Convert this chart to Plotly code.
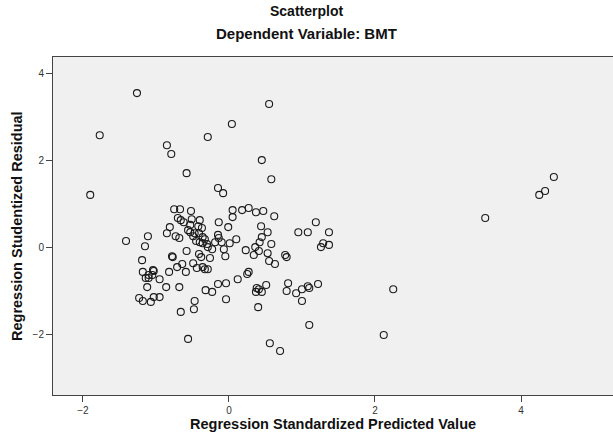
import plotly.graph_objects as go

# Regression Standardized Predicted Value
pred = [-1.26, -1.77, 0.55, 0.04, -0.29, -0.85, -0.79, 0.45, -0.58, 0.58,
        -1.90, -0.15, -0.08, 4.45, 4.33, 4.25, 3.51, -0.75, -0.67, -0.52,
        -0.70, -0.66, -0.62, -0.51, -0.40, -0.53, -0.42, -0.37, -0.81, -0.14,
        -0.01, 0.05, 0.18, 0.27, 0.37, 0.47, 0.05, 0.62, 0.44, 1.19,
        0.95, 1.08, 1.37, 1.29, 1.26, 1.37, 0.58, -0.85, -0.73, -0.68,
        -0.56, -0.53, -0.47, -0.49, -0.41, -0.36, -0.45, -0.33, -0.40, -0.36,
        -0.30, -0.29, -0.23, -0.15, -0.14, -0.10, -0.19, -0.07, 0.01, 0.10,
        0.53, 0.45, 0.42, 0.36, 0.41, 0.23, 0.34, 0.53, 0.55, 0.63,
        0.77, 0.79, -0.58, -0.78, -0.77, -0.41, -0.38, -0.26, -0.05, -0.49,
        -0.59, -0.44, -0.36, -0.33, -0.29, -0.64, -0.71, -0.82, -1.04, -1.05,
        -0.95, -0.86, -0.68, -0.32, -0.23, -0.15, -0.04, 0.12, 0.25, 0.27,
        0.38, 0.41, 0.37, 0.45, 0.51, 0.81, 0.79, 0.92, 1.00, 1.08,
        1.10, 1.22, 1.00, 1.10, 2.25, 2.12, 0.56, 0.70, -1.41, -1.11,
        -1.15, -1.19, -1.18, -1.03, -1.10, -1.14, -1.10, -1.12, -1.23, -1.18,
        -1.07, -1.03, -0.95, -0.47, -0.48, -0.66, -0.56, -0.04, 0.40]

# Regression Studentized Residual
resid = [3.54, 2.57, 3.29, 2.83, 2.53, 2.34, 2.14, 2.00, 1.70, 1.56,
         1.20, 1.36, 1.24, 1.61, 1.29, 1.20, 0.67, 0.87, 0.87, 0.83,
         0.67, 0.62, 0.57, 0.64, 0.62, 0.51, 0.48, 0.44, 0.46, 0.57,
         0.46, 0.85, 0.85, 0.90, 0.80, 0.83, 0.69, 0.71, 0.48, 0.57,
         0.34, 0.34, 0.34, 0.09, 0.00, 0.05, 0.07, 0.32, 0.25, 0.21,
         0.39, 0.34, 0.32, 0.25, 0.32, 0.23, 0.14, 0.18, 0.11, 0.09,
         0.07, 0.00, -0.05, 0.28, 0.21, 0.11, 0.11, -0.05, 0.09, 0.18,
         0.34, 0.23, 0.11, 0.00, -0.09, -0.07, -0.18, -0.14, -0.32, -0.39,
         -0.18, -0.23, -0.09, -0.21, -0.23, -0.16, -0.23, -0.25, -0.21, -0.37,
         -0.57, -0.48, -0.46, -0.51, -0.51, -0.39, -0.46, -0.57, -0.53, -0.64,
         -0.74, -0.92, -0.92, -0.99, -1.03, -0.85, -0.83, -0.74, -0.62, -0.57,
         -0.94, -0.97, -1.03, -1.03, -0.87, -0.83, -1.01, -1.06, -0.97, -0.90,
         -0.94, -0.85, -1.24, -1.79, -0.97, -2.02, -2.21, -2.39, 0.14, 0.25,
         0.02, -0.30, -0.57, -0.55, -0.64, -0.71, -0.71, -0.92, -1.17, -1.24,
         -1.26, -1.15, -1.15, -1.24, -1.43, -1.49, -2.11, -1.20, -1.38]

x_ticks = [-2, 0, 2, 4]
y_ticks = [-2, 0, 2, 4]

FONT = "Liberation Sans, Arial, sans-serif"
PLOT_L, PLOT_W, PLOT_B, PLOT_H = 53, 560, 395, 338
CENTER_X = (613 / 2 - PLOT_L) / PLOT_W

fig = go.Figure()
fig.add_trace(go.Scatter(
    x=pred, y=resid, mode="markers",
    marker=dict(symbol="circle-open", size=7, color="#1a1a1a",
                line=dict(width=1.1, color="#1a1a1a")),
    hoverinfo="x+y", showlegend=False,
))

fig.update_layout(
    width=613, height=434,
    margin=dict(l=53, r=0, t=57, b=39),
    paper_bgcolor="white",
    plot_bgcolor="#f0f0f0",
    font=dict(family=FONT, color="#222222"),
    xaxis=dict(range=[-2.41, 5.26], tickvals=x_ticks, ticks="outside",
               ticklen=6, tickcolor="#444444", showgrid=False, zeroline=False,
               showline=True, linecolor="#444444", linewidth=1, mirror=True,
               tickfont=dict(size=10, color="#333333")),
    yaxis=dict(range=[-3.40, 4.37], tickvals=y_ticks, ticks="outside",
               ticklen=6, tickcolor="#444444", showgrid=False, zeroline=False,
               showline=True, linecolor="#444444", linewidth=1, mirror=True,
               tickfont=dict(size=10, color="#333333")),
    annotations=[
        dict(text="<b>Scatterplot</b>", xref="paper", yref="paper",
             x=CENTER_X, y=(PLOT_B - 11) / PLOT_H, xanchor="center", yanchor="middle",
             showarrow=False, font=dict(size=14, family=FONT, color="#111111")),
        dict(text="<b>Dependent Variable: BMT</b>", xref="paper", yref="paper",
             x=CENTER_X, y=(PLOT_B - 33) / PLOT_H, xanchor="center", yanchor="middle",
             showarrow=False, font=dict(size=15, family=FONT, color="#111111")),
        dict(text="<b>Regression Standardized Predicted Value</b>", xref="paper",
             yref="paper", x=0.5, y=(PLOT_B - 424) / PLOT_H, xanchor="center",
             yanchor="middle", showarrow=False,
             font=dict(size=14.5, family=FONT, color="#111111")),
        dict(text="<b>Regression Studentized Residual</b>", xref="paper",
             yref="paper", x=(17 - PLOT_L) / PLOT_W, y=0.5, xanchor="center",
             yanchor="middle", textangle=-90, showarrow=False,
             font=dict(size=14.5, family=FONT, color="#111111")),
    ],
)

fig.write_html("out.html", config={"displayModeBar": False},
               post_script="document.body.style.margin='0px';")
